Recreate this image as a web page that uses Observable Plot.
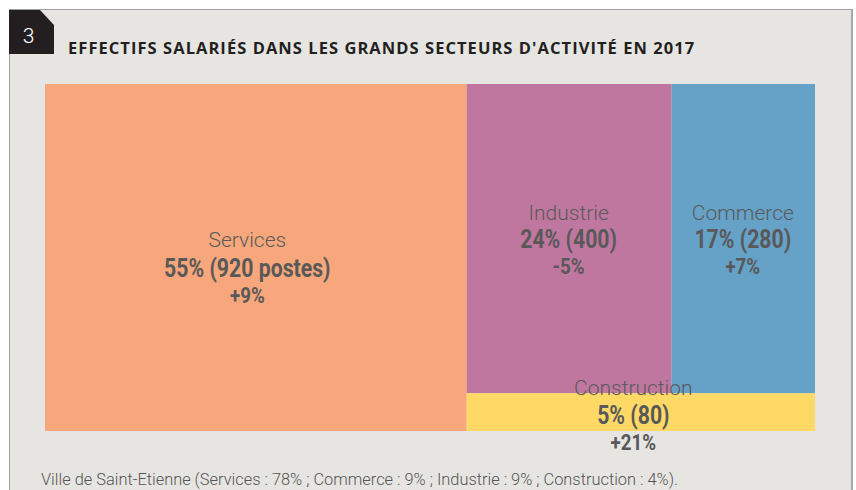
<!DOCTYPE html>
<html><head><meta charset="utf-8">
<script src="https://cdn.jsdelivr.net/npm/d3@7"></script>
<script src="https://cdn.jsdelivr.net/npm/@observablehq/plot@0.6"></script>
<style>
html,body{margin:0;padding:0;background:#fff;width:856px;height:490px;overflow:hidden;}
#frame{position:absolute;left:9px;top:9px;width:841px;height:490px;background:#e6e5e2;border-top:1.5px solid #9e9e9e;border-left:1.5px solid #9e9e9e;border-right:2.5px solid #a8a8a8;}
#badge{position:absolute;left:9px;top:10px;width:45px;height:44px;background:#231f20;clip-path:polygon(0 0,31px 0,45px 15px,45px 44px,0 44px);}
#badgeNum{position:absolute;left:9px;top:10px;width:39px;height:44px;color:#fff;font:300 21px Roboto,sans-serif;line-height:52px;text-align:center;}
#title{position:absolute;left:68px;top:39px;font:700 16.5px "Open Sans",sans-serif;line-height:18px;letter-spacing:1.05px;color:#231f20;white-space:nowrap;}
#chart{position:absolute;left:0;top:60px;}
#caption{position:absolute;left:41px;top:471px;font:300 16.4px Roboto,sans-serif;line-height:18px;color:#555;white-space:nowrap;}
</style></head>
<body>
<div id="frame"></div>
<div id="badge"></div>
<div id="badgeNum">3</div>
<div id="title">EFFECTIFS SALARIÉS DANS LES GRANDS SECTEURS D'ACTIVITÉ EN 2017</div>
<div id="chart"></div>
<div id="caption">Ville de Saint-Etienne (Services : 78% ; Commerce : 9% ; Industrie : 9% ; Construction : 4%).</div>
<script>
const categories = ["Services", "Industrie", "Commerce", "Construction"];
const shares = [55, 24, 17, 5];
const jobs = [920, 400, 280, 80];
const jobUnits = [" postes", "", "", ""];
const changes = ["+9%", "-5%", "+7%", "+21%"];
const colors = ["#f7a77b", "#c0779f", "#66a1c7", "#fed966"];

// Layout: first sector is a full-height column sized by its jobs; the others
// share the right column, with the last sector as a bottom strip.
const totalJobs = d3.sum(jobs);
const rightJobs = jobs[1] + jobs[2] + jobs[3];
const stripH = shares[3] / (shares[1] + shares[2] + shares[3]);
const rows = categories.map((c, i) => ({category: c, share: shares[i], jobs: jobs[i], unit: jobUnits[i], change: changes[i], color: colors[i]}));
rows[0].x1 = 0; rows[0].x2 = jobs[0]; rows[0].y1 = 0; rows[0].y2 = 1;
rows[1].x1 = jobs[0]; rows[1].x2 = jobs[0] + rightJobs * jobs[1] / (jobs[1] + jobs[2]); rows[1].y1 = stripH; rows[1].y2 = 1;
rows[2].x1 = rows[1].x2; rows[2].x2 = totalJobs; rows[2].y1 = stripH; rows[2].y2 = 1;
rows[3].x1 = jobs[0]; rows[3].x2 = totalJobs; rows[3].y1 = 0; rows[3].y2 = stripH;
rows.forEach(d => { d.cx = (d.x1 + d.x2) / 2; d.cy = (d.y1 + d.y2) / 2; });

const nameFont = {fontFamily: "Roboto, sans-serif", fontWeight: 300, fontSize: 21, fill: "#5a5a5a"};
const boldFont = {fontFamily: "Roboto, sans-serif", fontWeight: 700, fontSize: 25, fill: "#595959", className: "narrow"};
const chgFont = {fontFamily: "Roboto, sans-serif", fontWeight: 700, fontSize: 22, fill: "#595959", className: "narrow"};

function labels(data, dx, dyName, dyBold, dyChg) {
  return [
    Plot.text(data, {x: "cx", y: "cy", text: "category", dx, dy: dyName, lineAnchor: "middle", ...nameFont}),
    Plot.text(data, {x: "cx", y: "cy", text: d => `${d.share}% (${d.jobs}${d.unit})`, dx, dy: dyBold, lineAnchor: "middle", ...boldFont}),
    Plot.text(data, {x: "cx", y: "cy", text: "change", dx, dy: dyChg, lineAnchor: "middle", ...chgFont})
  ];
}

const chart = Plot.plot({
  width: 856,
  height: 400,
  marginTop: 24,
  marginBottom: 29,
  marginLeft: 45,
  marginRight: 41,
  x: {domain: [0, totalJobs], axis: null},
  y: {domain: [0, 1], axis: null},
  style: {background: "transparent", overflow: "visible"},
  marks: [
    Plot.rect(rows, {x1: "x1", x2: "x2", y1: "y1", y2: "y2", fill: "color"}),
    ...labels(rows.filter(d => d.category === "Services"), -9, -18, 11, 38),
    ...labels(rows.filter(d => d.category === "Industrie" || d.category === "Commerce"), -1, -26, 1, 28),
    ...labels(rows.filter(d => d.category === "Construction"), -8, -24, 3, 30)
  ]
});

// Condense the bold figures horizontally (no condensed font available offline).
d3.select(chart).selectAll(".narrow text").each(function () {
  const t = this.getAttribute("transform");
  if (t) {
    this.setAttribute("transform", t + " scale(0.85,1)");
  } else {
    const x = +this.getAttribute("x") || 0, y = +this.getAttribute("y") || 0;
    this.setAttribute("transform", `translate(${x},${y}) scale(0.85,1) translate(${-x},${-y})`);
  }
});
document.getElementById("chart").appendChild(chart);
</script>
</body></html>
